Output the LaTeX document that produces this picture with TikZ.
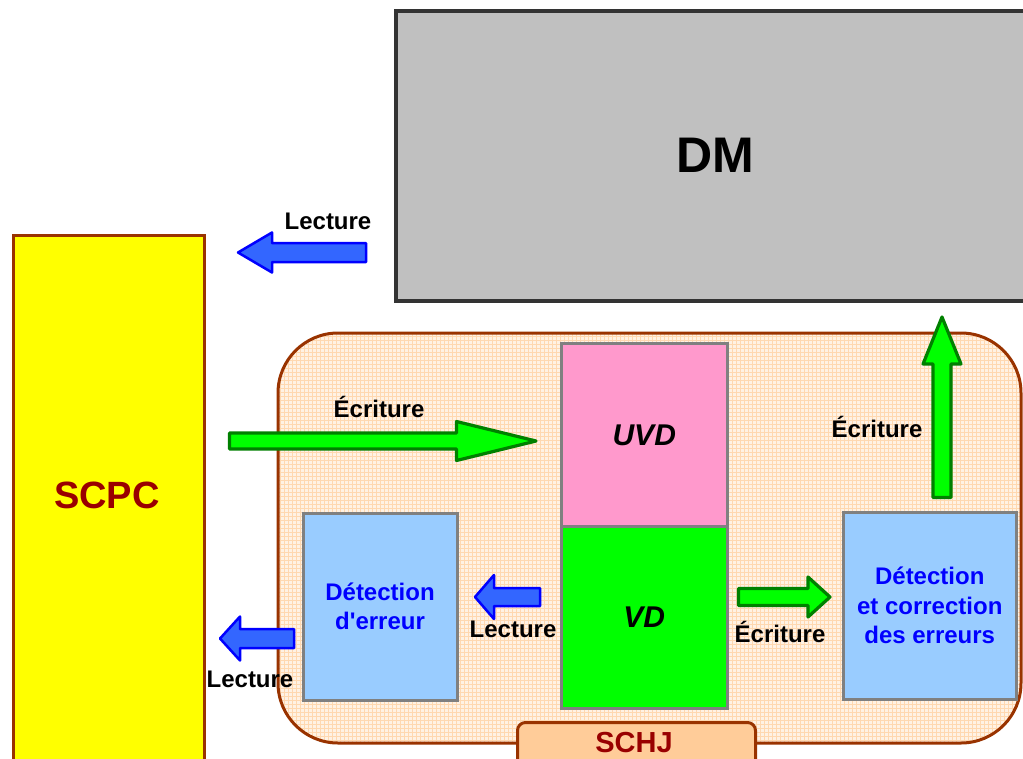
\documentclass[tikz,border=0pt]{standalone}
\usepackage{fontspec}
\setmainfont{Liberation Sans}
\newfontfamily\rawfont{Liberation Sans}
\definecolor{dmfill}{HTML}{C0C0C0}
\definecolor{dmborder}{HTML}{333333}
\definecolor{brownb}{HTML}{993300}
\definecolor{darkred}{HTML}{990000}
\definecolor{yellowf}{HTML}{FFFF00}
\definecolor{peach}{HTML}{FFF2E4}
\definecolor{gridc}{HTML}{FFD8B0}
\definecolor{tabfill}{HTML}{FFCC99}
\definecolor{boxgray}{HTML}{808080}
\definecolor{lblue}{HTML}{99CCFF}
\definecolor{pinkf}{HTML}{FF99CC}
\definecolor{greenf}{HTML}{00FF00}
\definecolor{greenb}{HTML}{008000}
\definecolor{bluef}{HTML}{3366FF}
\definecolor{blueb}{HTML}{0000FF}
\newcommand\blkarrow[7]{% style, tailx, tipx, y, shaft half, head half, head base x
  \draw[#1] (#2,{#4-#5}) -- (#7,{#4-#5}) -- (#7,{#4-#6}) -- (#3,#4) -- (#7,{#4+#6}) -- (#7,{#4+#5}) -- (#2,{#4+#5}) -- cycle;}
\tikzset{
  lbl/.style={font=\bfseries\fontsize{24}{28}\selectfont, inner sep=0pt, anchor=base},
  grybox/.style={draw=boxgray, line width=3pt, inner sep=0pt},
  bluebox/.style={grybox, fill=lblue, text=blueb, align=center,
    font=\rawfont\bfseries\fontsize{24}{29.5}\selectfont},
  garrow/.style={fill=greenf, draw=greenb, line width=3.2pt, line join=round},
  barrow/.style={fill=bluef, draw=blueb, line width=2.5pt, line join=round},
}
\begin{document}
\begin{tikzpicture}[x=1pt,y=-1pt]
\useasboundingbox (0,0) rectangle (1023,758);
% DM
\node[draw=dmborder, line width=4pt, fill=dmfill, minimum width=650pt, minimum height=290pt,
  inner sep=0pt, anchor=north west] (dm) at (394,8.5) {};
\node[font=\bfseries\fontsize{50}{60}\selectfont, inner sep=0pt] (dmlabel) at (715,155) {DM};
% SCPC
\node[draw=brownb, line width=3pt, fill=yellowf, minimum width=191.5pt, minimum height=560pt,
  inner sep=0pt, anchor=north west] (scpc) at (11.5,234) {};
\node[font=\bfseries\fontsize{38}{44}\selectfont, text=darkred, inner sep=0pt] (scpclabel) at (107,495) {SCPC};
% SCHJ container
\begin{scope}
  \clip[rounded corners=60pt] (278,333) rectangle (1021,743);
  \fill[peach] (278,333) rectangle (1021,743);
  \draw[gridc, line width=0.5pt, step=4pt] (278,333) grid (1021,743);
\end{scope}
\node[draw=brownb, line width=3pt, rounded corners=60pt, minimum width=743pt, minimum height=410pt,
  inner sep=0pt] (schj) at (649.5,538) {};
\node[draw=brownb, line width=3pt, fill=tabfill, rounded corners=8pt, minimum width=238pt,
  minimum height=60pt, inner sep=0pt, anchor=north west] (tab) at (516,721) {};
\node[font=\bfseries\fontsize{29}{34}\selectfont, text=darkred, inner sep=0pt, anchor=base] (schjlabel) at (634,752) {SCHJ};
% UVD / VD
\node[grybox, fill=pinkf, minimum width=165.5pt, minimum height=183pt, anchor=north west,
  font=\bfseries\itshape\fontsize{30}{36}\selectfont] (uvd) at (560,342) {UVD};
\node[grybox, fill=greenf, minimum width=165.5pt, minimum height=182pt, anchor=north west,
  font=\bfseries\itshape\fontsize{30}{36}\selectfont] (vd) at (560,525) {VD};
% detection boxes
\node[bluebox, minimum width=154pt, minimum height=187pt] (det) at (380,606.5) {Détection\\d'erreur};
\node[bluebox, minimum width=172.5pt, minimum height=187pt] (detc) at (929.75,605.5) {Détection\\et correction\\des erreurs};
% arrows
\blkarrow{barrow}{366}{238}{252.5}{9.5}{20}{272}
\node[lbl] (lect1) at (328,229) {Lecture};
\blkarrow{garrow}{229.5}{536}{441}{8}{19.5}{456.5}
\node[lbl] (ecr1) at (379,417) {Écriture};
\draw[garrow] (933,497.5) -- (933,364) -- (923,364) -- (942,317) -- (961,364) -- (951,364) -- (951,497.5) -- cycle;
\node[lbl] (ecr2) at (877,437) {Écriture};
\blkarrow{garrow}{738.5}{830}{597}{8.5}{20}{808}
\node[lbl] (ecr3) at (780,642) {Écriture};
\blkarrow{barrow}{540}{475}{597}{9}{22}{494}
\node[lbl] (lect2) at (513,637) {Lecture};
\blkarrow{barrow}{294}{220}{638.5}{9.5}{22}{240}
\node[lbl] (lect3) at (250,687) {Lecture};
\end{tikzpicture}
\end{document}
